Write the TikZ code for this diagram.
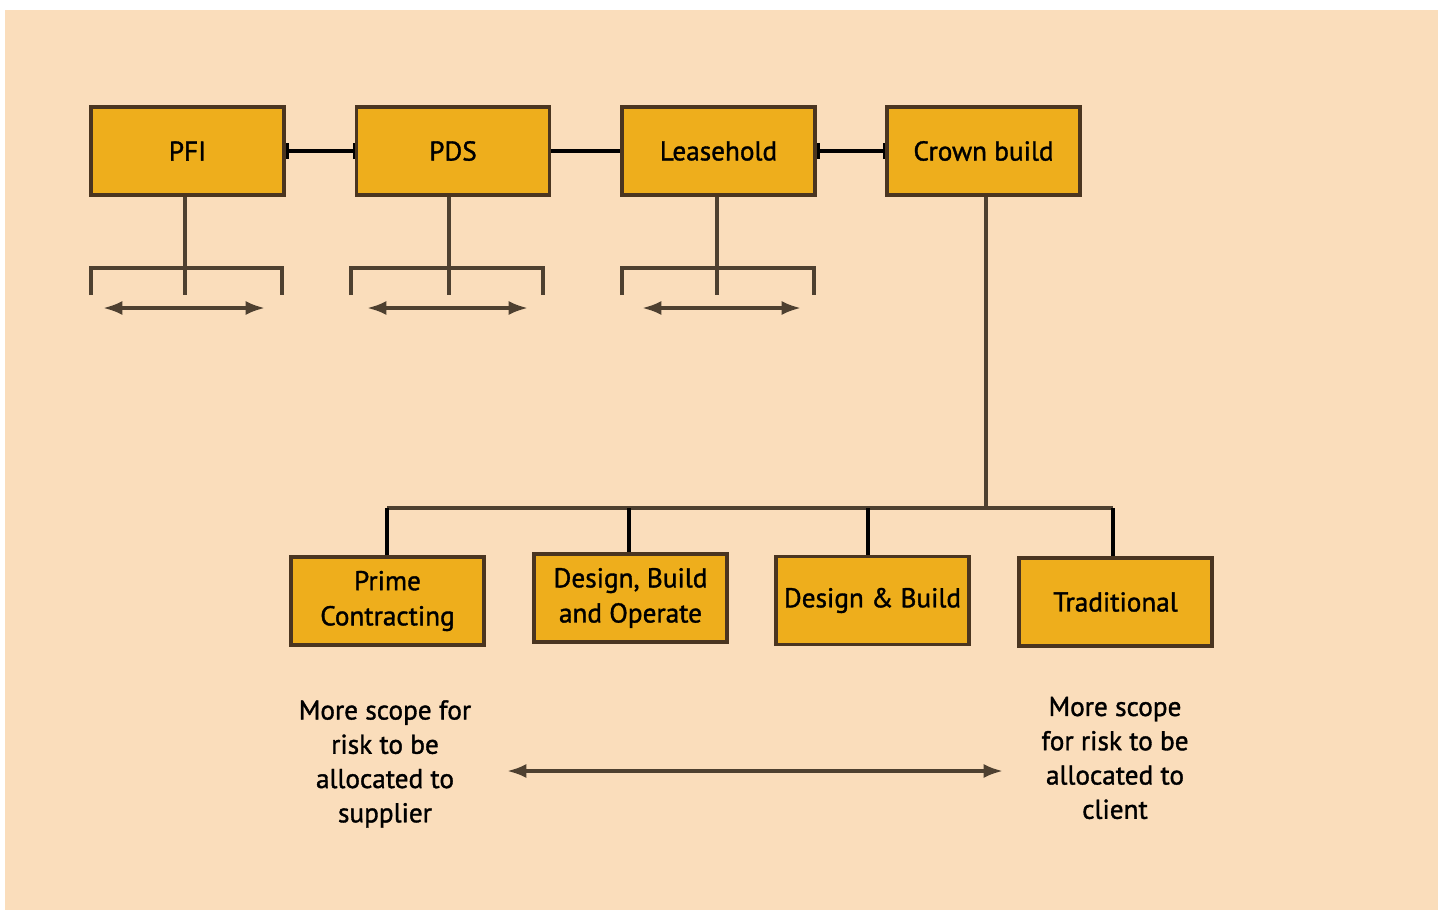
\documentclass[tikz,border=0pt]{standalone}
\usepackage{fontspec}
\setmainfont{PT Sans}[FakeBold=1.3]
\usetikzlibrary{arrows.meta}
\definecolor{bgpeach}{HTML}{FADDBB}
\definecolor{boxfill}{HTML}{EEAE1C}
\definecolor{boxline}{HTML}{4A3520}
\definecolor{brline}{HTML}{4E4030}
\tikzset{
  box/.style={draw=boxline, line width=2.1pt, fill=boxfill, minimum width=3.86cm, minimum height=1.76cm, inner sep=0pt, align=center, font=\fontsize{15.5}{20}\selectfont, text=black},
  conn/.style={draw=black, line width=2pt},
  brk/.style={draw=brline, line width=2pt},
  dbl/.style={draw=brline, line width=2pt, {Latex[length=11pt,width=8pt]}-{Latex[length=11pt,width=8pt]}},
  note/.style={align=center, font=\fontsize{15.5}{20}\selectfont, text=black, inner sep=0pt}
}
\begin{document}
\begin{tikzpicture}[x=0.02cm, y=-0.02cm]
\useasboundingbox (0,0) rectangle (1438,910);
\fill[white] (0,0) rectangle (1438,910);
\fill[bgpeach] (5,10) rectangle (1438,910);

% top boxes
\node[box] (pfi) at (187.5,151) {PFI};
\node[box] (pds) at (453,151) {PDS};
\node[box] (lease) at (718.5,151) {Leasehold};
\node[box] (crown) at (983.5,151) {Crown build};

% bottom boxes
\node[box] (prime) at (387.5,601) {Prime\\Contracting};
\node[box] (dbo) at (630.5,598) {Design, Build\\and Operate};
\node[box] (db) at (872.5,600.5) {Design \& Build};
\node[box] (trad) at (1115.5,602) {Traditional};

% horizontal links between top boxes
\draw[conn, {Bar[width=9pt,line width=2pt]}-{Bar[width=9pt,line width=1.2pt]}] (pfi.east) -- (pds.west);
\draw[conn] (pds.east) -- (lease.west);
\draw[conn, {Bar[width=9pt,line width=2pt]}-{Bar[width=9pt,line width=1.2pt]}] (lease.east) -- (crown.west);

% brackets under top-left boxes
\coordinate (pfiB) at (185,295);
\coordinate (pdsB) at (449,295);
\coordinate (leaseB) at (717,295);
\draw[brk] (pfi.south -| pfiB) -- (pfiB);
\draw[brk] (pds.south -| pdsB) -- (pdsB);
\draw[brk] (lease.south -| leaseB) -- (leaseB);
\draw[brk] (91,295) -- (91,268) -- (282,268) -- (282,295);
\draw[brk] (351,295) -- (351,268) -- (543,268) -- (543,295);
\draw[brk] (622,295) -- (622,268) -- (814,268) -- (814,295);
\draw[dbl] (103,308) -- (265,308);
\draw[dbl] (367,308) -- (528,308);
\draw[dbl] (642,308) -- (801,308);

% tree from Crown build
\coordinate (hub) at (986,508);
\coordinate (busL) at (387,508);
\coordinate (busR) at (1113,508);
\draw[brk] (crown.south -| hub) -- (hub);
\draw[brk] (busL) -- (busR);
\draw[conn] (busL) -- (prime.north -| busL);
\draw[conn] (629,508) -- (dbo.north -| 629,508);
\draw[conn] (868,508) -- (db.north -| 868,508);
\draw[conn] (busR) -- (trad.north -| busR);

% notes
\node[note] (noteL) at (385,764) {More scope for\\[-0.5pt]risk to be\\[-0.5pt]allocated to\\[-0.5pt]supplier};
\node[note] (noteR) at (1115,758) {More scope\\[-0.5pt]for risk to be\\[-0.5pt]allocated to\\[-0.5pt]client};
\coordinate (arrL) at (507,771);
\coordinate (arrR) at (1003,771);
\draw[dbl] (arrL) -- (arrR);
\end{tikzpicture}
\end{document}
